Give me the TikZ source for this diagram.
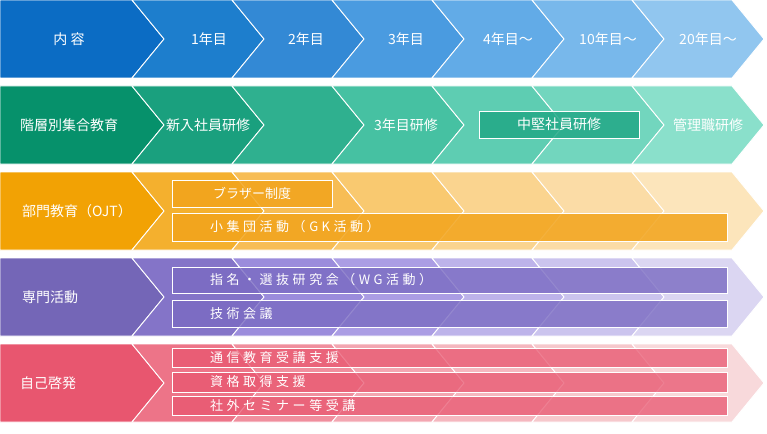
\documentclass[tikz,border=0pt]{standalone}
\usepackage{fontspec}
\setmainfont{Noto Sans CJK JP}
\newfontfamily\spacedjp[LetterSpace=27]{Noto Sans CJK JP}
% row palettes, dark to light
\definecolor{blu0}{HTML}{0B6CC4}\definecolor{blu1}{HTML}{1D7ECD}\definecolor{blu2}{HTML}{3389D5}
\definecolor{blu3}{HTML}{4A9BE0}\definecolor{blu4}{HTML}{62ABE7}\definecolor{blu5}{HTML}{78B8EB}
\definecolor{blu6}{HTML}{91C6EF}
\definecolor{grn0}{HTML}{06916B}\definecolor{grn1}{HTML}{1AA07E}\definecolor{grn2}{HTML}{2FB08F}
\definecolor{grn3}{HTML}{46C1A2}\definecolor{grn4}{HTML}{5ECDB2}\definecolor{grn5}{HTML}{72D6BE}
\definecolor{grn6}{HTML}{8AE0CB}
\definecolor{org0}{HTML}{F2A204}\definecolor{org1}{HTML}{F4B02E}\definecolor{org2}{HTML}{F7BD55}
\definecolor{org3}{HTML}{F9C970}\definecolor{org4}{HTML}{FAD48F}\definecolor{org5}{HTML}{FBDCA6}
\definecolor{org6}{HTML}{FCE5BB}
\definecolor{prp0}{HTML}{7466B7}\definecolor{prp1}{HTML}{8474C8}\definecolor{prp2}{HTML}{9B8CDC}
\definecolor{prp3}{HTML}{AB9DE4}\definecolor{prp4}{HTML}{BDB3EA}\definecolor{prp5}{HTML}{CBC4EE}
\definecolor{prp6}{HTML}{DBD6F2}
\definecolor{pnk0}{HTML}{E8566F}\definecolor{pnk1}{HTML}{ED7488}\definecolor{pnk2}{HTML}{F08E9D}
\definecolor{pnk3}{HTML}{F3A6B1}\definecolor{pnk4}{HTML}{F5B7BF}\definecolor{pnk5}{HTML}{F6C8CC}
\definecolor{pnk6}{HTML}{F8D9DB}
\definecolor{midgrn}{HTML}{22A886}
\definecolor{orgbar}{HTML}{F2A41C}
\definecolor{prpbar}{HTML}{7A6BC2}
\definecolor{pnkbar}{HTML}{E8566F}

\tikzset{
  chev/.style={draw=white, line width=0.9pt, line join=miter},
  rowlabel/.style={text=white, font=\fontsize{14}{16}\selectfont, anchor=west, inner sep=0pt},
  celllabel/.style={text=white, font=\fontsize{14}{16}\selectfont, inner sep=0pt},
  barbox/.style={draw=white, line width=0.8pt},
  bartext/.style={text=white, font=\spacedjp\fontsize{13}{15}\selectfont, anchor=west, inner sep=0pt},
}

\begin{document}
\begin{tikzpicture}[x=1pt, y=-1pt]
\useasboundingbox (0,0) rectangle (767,433);

% === Chevron rows ===
\foreach \row/\pal in {0/blu, 1/grn, 2/org, 3/prp, 4/pnk} {
  \begin{scope}[shift={(0,86*\row)}]
    \foreach \i in {0,...,6} {
      \pgfmathsetmacro{\L}{\i==0 ? 0 : 32+100*\i}
      \pgfmathsetmacro{\R}{132+100*\i}
      \pgfmathsetmacro{\n}{\i==0 ? 0 : 32}
      \fill[\pal\i] (\L,0) -- (\R,0) -- ({\R+32},39) -- (\R,78) -- (\L,78) -- ({\L+\n},39) -- cycle;
      \draw[chev] (\L,0) -- (\R,0) -- ({\R+32},39) -- (\R,78) -- (\L,78) -- ({\L+\n},39) -- cycle;
    }
  \end{scope}
}

% === Row 1: years ===
\node[celllabel] (hdrContent) at (69,39) {内 容};
\node[celllabel] (hdr1) at (209,39) {1年目};
\node[celllabel] (hdr2) at (306,39) {2年目};
\node[celllabel] (hdr3) at (406,39) {3年目};
\node[celllabel] (hdr4) at (508,39) {4年目～};
\node[celllabel] (hdr10) at (608,39) {10年目～};
\node[celllabel] (hdr20) at (708,39) {20年目～};

% === Row 2: group training ===
\node[rowlabel] (grpLabel) at (20,125) {階層別集合教育};
\node[celllabel] (grpNew) at (208,125) {新入社員研修};
\node[celllabel] (grpThird) at (406,125) {3年目研修};
\fill[midgrn, fill opacity=0.85] (479,111) rectangle (639,138);
\draw[barbox] (479,111) rectangle (639,138);
\node[celllabel] (grpMid) at (559,124.5) {中堅社員研修};
\node[celllabel] (grpMgr) at (708,125) {管理職研修};

% === Row 3: OJT ===
\node[rowlabel] (ojtLabel) at (22,211) {部門教育（OJT）};
\fill[orgbar, fill opacity=0.85] (172,180) rectangle (332,207);
\draw[barbox] (172,180) rectangle (332,207);
\node[celllabel, font=\fontsize{13}{15}\selectfont] (ojtBrother) at (252,193.5) {ブラザー制度};
\fill[orgbar, fill opacity=0.85] (172,213) rectangle (727,241);
\draw[barbox] (172,213) rectangle (727,241);
\node[bartext] (ojtGK) at (210,227) {小集団活動（GK活動）};

% === Row 4: expert activities ===
\node[rowlabel] (expLabel) at (22,297) {専門活動};
\fill[prpbar, fill opacity=0.8] (172,267) rectangle (727,293);
\draw[barbox] (172,267) rectangle (727,293);
\node[bartext] (expWG) at (210,280) {指名・選抜研究会（WG活動）};
\fill[prpbar, fill opacity=0.8] (172,300) rectangle (727,327);
\draw[barbox] (172,300) rectangle (727,327);
\node[bartext] (expMeet) at (210,313.5) {技術会議};

% === Row 5: self development ===
\node[rowlabel] (selfLabel) at (20,383) {自己啓発};
\fill[pnkbar, fill opacity=0.75] (172,348) rectangle (727,367);
\draw[barbox] (172,348) rectangle (727,367);
\node[bartext] (selfCorr) at (210,357.5) {通信教育受講支援};
\fill[pnkbar, fill opacity=0.75] (172,372) rectangle (727,392);
\draw[barbox] (172,372) rectangle (727,392);
\node[bartext] (selfQual) at (210,382) {資格取得支援};
\fill[pnkbar, fill opacity=0.75] (172,396) rectangle (727,415);
\draw[barbox] (172,396) rectangle (727,415);
\node[bartext] (selfSem) at (210,405.5) {社外セミナー等受講};

\end{tikzpicture}
\end{document}
